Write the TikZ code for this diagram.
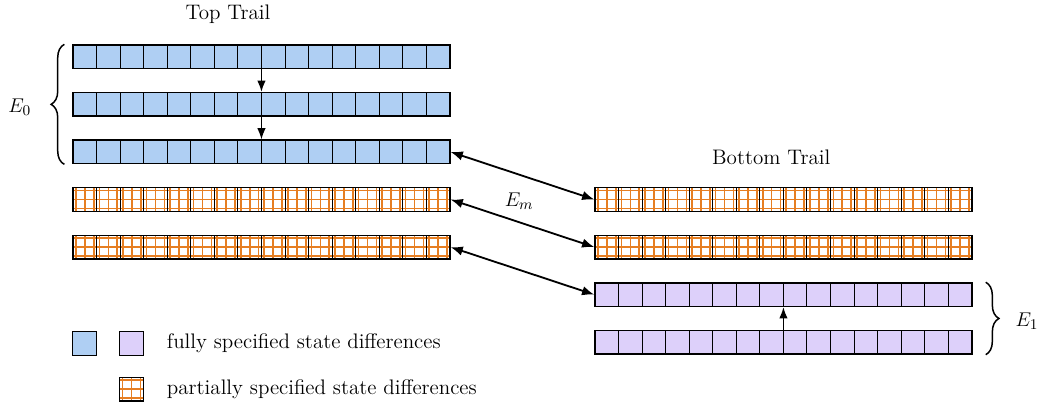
\documentclass[tikz,border=0pt]{standalone}
\usetikzlibrary{positioning,arrows.meta,decorations.pathreplacing}

\definecolor{cellblue}{RGB}{175,207,243}
\definecolor{cellpurple}{RGB}{221,208,250}
\definecolor{gridorange}{RGB}{230,126,34}

\tikzset{
	cell/.style={draw, line width=0.8pt, inner sep=0pt, minimum height=0.5cm, minimum width=0.5cm},
	row/.style={cell, minimum width=8cm},
	cellline/.style={line width=0.6pt},
	bitline/.style={gridorange, line width=1pt},
	full/.style={fill=#1, path picture={
		\foreach \i in {1,...,15}
			\draw[cellline] ([xshift=\i*5mm]path picture bounding box.south west) -- ([xshift=\i*5mm]path picture bounding box.north west);}},
	part/.style={fill=white, path picture={
		\foreach \i in {0,...,15}
			\foreach \d in {0.6,2.5,4.4}
				\draw[bitline] ([xshift=\i*5mm+\d*1mm]path picture bounding box.south west) -- ([xshift=\i*5mm+\d*1mm]path picture bounding box.north west);
		\foreach \d in {0.6,2.5,4.4}
			\draw[bitline] ([yshift=\d*1mm]path picture bounding box.south west) -- ([yshift=\d*1mm]path picture bounding box.south east);
		\foreach \i in {1,...,15}
			\draw[cellline] ([xshift=\i*5mm]path picture bounding box.south west) -- ([xshift=\i*5mm]path picture bounding box.north west);}},
	link/.style={{Latex[length=2.6mm,width=2mm]}-{Latex[length=2.6mm,width=2mm]}, line width=1.1pt},
	flow/.style={-{Latex[length=2.4mm,width=1.8mm]}, line width=0.9pt},
	brace/.style={decorate, decoration={brace, amplitude=8pt}, line width=0.9pt}
}

\begin{document}
\begin{tikzpicture}[font=\fontsize{12.7}{15}\selectfont]
\useasboundingbox (0,0) rectangle (22.14,-8.62);

% top trail
\node (toptitle) at (4.84,-0.30) {Top Trail};
\node [row, full=cellblue] (t1) at (5.55,-1.205) {};
\node [row, full=cellblue] (t2) at (5.55,-2.215) {};
\node [row, full=cellblue] (t3) at (5.55,-3.225) {};
\node [row, part] (t4) at (5.55,-4.235) {};
\node [row, part] (t5) at (5.55,-5.245) {};

\draw [flow] (t1.south) -- (t2.north);
\draw [flow] (t2.south) -- (t3.north);

\draw [brace] ([xshift=-0.17cm]t3.south west) -- ([xshift=-0.17cm]t1.north west);
\node (e0) at (0.42,-2.27) {$E_0$};

% bottom trail
\node (bottitle) at (16.37,-3.33) {Bottom Trail};
\node [row, part] (b1) at (16.63,-4.235) {};
\node [row, part] (b2) at (16.63,-5.245) {};
\node [row, full=cellpurple] (b3) at (16.63,-6.255) {};
\node [row, full=cellpurple] (b4) at (16.63,-7.265) {};

\draw [flow] (b4.north) -- (b3.south);

\draw [brace] ([xshift=0.28cm]b3.north east) -- ([xshift=0.28cm]b4.south east);
\node (e1) at (21.8,-6.82) {$E_1$};

% matching
\draw [link] (t3.east) -- (b1.west);
\draw [link] (t4.east) -- (b2.west);
\draw [link] (t5.east) -- (b3.west);
\node (em) at (11.02,-4.27) {$E_m$};

% legend
\node [cell, full=cellblue] (lblue) at (1.794,-7.293) {};
\node [cell, full=cellpurple] (lpurple) at (2.792,-7.293) {};
\node [cell, part] (lorange) at (2.792,-8.259) {};
\node [anchor=west] (fulltxt) at (3.42,-7.293) {fully specified state differences};
\node [anchor=west] (parttxt) at (3.42,-8.259) {partially specified state differences};

\end{tikzpicture}
\end{document}
